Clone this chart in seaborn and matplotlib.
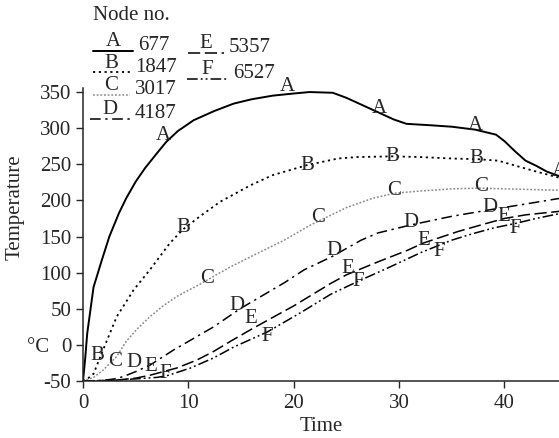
import matplotlib
matplotlib.use("Agg")
import matplotlib.pyplot as plt
import seaborn as sns
import pandas as pd
from matplotlib.lines import Line2D

# ---- data ----
a_x = [0, 0.2, 0.4, 1, 1.8, 2.5, 3.4, 4.1, 5.0, 5.9, 7, 7.9, 9.0, 10.5, 12.5, 14.3, 16, 18, 20, 21.5, 23.7,
       25, 26.5, 28, 29.5, 30.7, 33, 35, 37.2, 39.2, 40, 41, 42, 43, 44, 45.3]
a_y = [-50, -20, 16, 80, 118, 150, 182, 203, 226, 245, 265, 281, 296, 311, 324, 334, 340, 345, 348, 350, 349,
       342, 332, 322, 312, 306, 304, 302, 298, 291, 282, 268, 255, 248, 240, 233]

b_x = [0, 0.5, 1.0, 1.9, 3.2, 4.8, 6.35, 8.25, 9.5, 11.1, 13, 15.9, 18, 21.3, 24.2, 26, 29.4, 32, 35, 37.5,
       39.4, 41.3, 43, 45.3]
b_y = [-50, -46, -40, -7, 39, 76, 104, 141, 160, 178, 198, 221, 235, 249, 258, 260, 261, 260, 258, 257,
       255, 247, 240, 231]

c_x = [0, 1, 1.9, 3.2, 4.1, 5.2, 6.35, 7.6, 8.9, 11.1, 12.4, 14, 15.9, 19.1, 21.6, 25, 27.5, 29.6, 32, 35,
       37.5, 40, 45.3]
c_y = [-50, -45, -35, -16, 5, 23, 39, 54, 67, 84, 95, 108, 122, 145, 166, 190, 203, 210, 213, 216,
       217, 216, 214]

d_x = [0, 2, 3, 3.8, 5, 6.35, 8.6, 10.5, 12.4, 14.9, 17, 19.1, 21, 23.6, 26.4, 28, 31.1, 35, 38.6, 42, 45.3]
d_y = [-50, -49, -47, -44, -37, -28, -7, 9, 25, 50, 68, 86, 104, 122, 145, 155, 166, 178, 187, 195, 203]

e_x = [0, 3, 5, 6.35, 8.9, 10.8, 12.4, 14, 15.9, 18, 20, 23.5, 25, 28, 30.8, 32.3, 35.6, 38, 40, 42, 45.3]
e_y = [-50, -49, -46, -42, -32, -21, -9, 5, 21, 38, 54, 85, 97, 115, 131, 141, 157, 167, 175, 180, 185]

f_x = [0, 3, 5, 7, 7.9, 10.2, 12.4, 14.3, 17.5, 20.7, 23.5, 26.1, 29, 32.1, 35, 37, 39, 41, 43, 45.3]
f_y = [-50, -49, -47, -45, -43, -32, -18, -3, 18, 45, 70, 88, 107, 128, 145, 154, 162, 168, 175, 182]

# curve letters placed along the lines
a_lx = [7.6, 19.4, 28.1, 37.2, 45.2]
a_ly = [290, 357, 327, 304, 240]
b_lx = [1.4, 9.5, 21.3, 29.4, 37.3]
b_ly = [-14, 162, 249, 261, 258]
c_lx = [3.0, 11.8, 22.3, 29.5, 37.8]
c_ly = [-23, 92, 176, 214, 219]
d_lx = [4.8, 14.6, 23.8, 31.1, 38.6]
d_ly = [-25, 55, 131, 169, 190]
e_lx = [6.4, 15.9, 25.1, 32.3, 39.9]
e_ly = [-30, 37, 106, 145, 178]
f_lx = [7.8, 17.5, 26.1, 33.8, 41.0]
f_ly = [-39, 12, 88, 129, 161]

letters = ['A', 'B', 'C', 'D', 'E', 'F']
nodes = ['677', '1847', '3017', '4187', '5357', '6527']

sns.set_style("ticks")
plt.rcParams['font.family'] = ['Liberation Serif', 'DejaVu Serif']
plt.rcParams['font.size'] = 15

styles = {
    'A': dict(color='black', linestyle='-', linewidth=1.4),
    'B': dict(color='black', linestyle=(0, (1.2, 2.0)), linewidth=1.3),
    'C': dict(color='#8a8a8a', linestyle=(0, (1.2, 1.2)), linewidth=1.1),
    'D': dict(color='black', linestyle=(0, (7, 3, 1.5, 3)), linewidth=1.1),
    'E': dict(color='black', linestyle=(0, (8, 3)), linewidth=1.1),
    'F': dict(color='black', linestyle=(0, (7, 2, 1.2, 2, 1.2, 2)), linewidth=1.1),
}

curves = {'A': (a_x, a_y), 'B': (b_x, b_y), 'C': (c_x, c_y),
          'D': (d_x, d_y), 'E': (e_x, e_y), 'F': (f_x, f_y)}
marks = {'A': (a_lx, a_ly), 'B': (b_lx, b_ly), 'C': (c_lx, c_ly),
         'D': (d_lx, d_ly), 'E': (e_lx, e_ly), 'F': (f_lx, f_ly)}

fig = plt.figure(figsize=(5.59, 4.38), dpi=100)
ax = fig.add_axes([0.1485, 0.1301, 0.852, 0.668])

for k in letters:
    df = pd.DataFrame({'Time': curves[k][0], 'Temperature': curves[k][1]})
    sns.lineplot(data=df, x='Time', y='Temperature', ax=ax, sort=False, **styles[k])
    for lx, ly in zip(*marks[k]):
        ax.text(lx, ly, k, ha='center', va='center', fontsize=15, clip_on=False)

ax.set_xlim(0, 45.2)
ax.set_ylim(-50, 355)
ax.set_xticks([0, 10, 20, 30, 40])
ax.set_yticks(range(-50, 351, 50))
ax.set_yticklabels(['-50', '0', '50', '100', '150', '200', '250', '300', '350'])
ax.tick_params(direction='out', length=5, width=1, labelsize=15)
ax.tick_params(axis='y', pad=3.5)
ax.tick_params(axis='x', pad=4)
sns.despine(ax=ax)
for s in ['left', 'bottom']:
    ax.spines[s].set_linewidth(1.1)

ax.set_xlabel('Time', fontsize=15, labelpad=3)
ax.set_ylabel('Temperature', fontsize=15)
ax.yaxis.set_label_coords(-0.122, 0.595)
ax.text(-0.095, -3, '°C', transform=ax.get_yaxis_transform(), ha='center', va='center', fontsize=15)


# ---- hand-made legend in figure pixel coordinates ----
def fx(px):
    return px / 559


def fy(py):
    return 1 - py / 438


fig.text(fx(93), fy(16), 'Node no.', ha='left', va='center', fontsize=15)
leg_pos = {'A': (93, 133, 51), 'B': (93, 130, 72), 'C': (93, 130, 95), 'D': (90, 130, 119),
           'E': (188, 224, 53), 'F': (187, 228, 79)}
for k, n in zip(letters, nodes):
    x0, x1, yy = leg_pos[k]
    fig.add_artist(Line2D([fx(x0), fx(x1)], [fy(yy), fy(yy)], transform=fig.transFigure, **styles[k]))
    fig.text(fx((x0 + x1) / 2), fy(yy - 9), k, ha='center', va='center', fontsize=15)
    fig.text(fx(x1 + 5), fy(yy - 5), n, ha='left', va='center', fontsize=15)

fig.savefig('out.png', dpi=100)
